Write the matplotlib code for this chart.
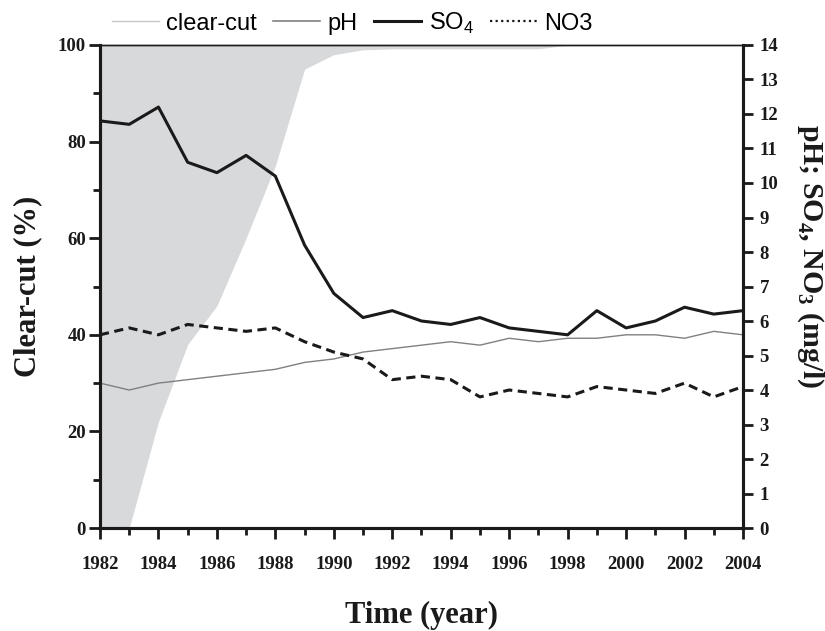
import matplotlib
matplotlib.use("Agg")
import matplotlib.pyplot as plt
from matplotlib.lines import Line2D
from matplotlib.ticker import MultipleLocator

years = list(range(1982, 2005))
clearcut = [0, 0, 22, 38, 46, 60, 75, 95, 98, 99, 99.2, 99.2, 99.2, 99.2, 99.2,
            99.2, 100, 100, 100, 100, 100, 100, 100]
ph = [4.2, 4.0, 4.2, 4.3, 4.4, 4.5, 4.6, 4.8, 4.9, 5.1, 5.2, 5.3, 5.4,
      5.3, 5.5, 5.4, 5.5, 5.5, 5.6, 5.6, 5.5, 5.7, 5.6]
so4 = [11.8, 11.7, 12.2, 10.6, 10.3, 10.8, 10.2, 8.2, 6.8, 6.1, 6.3, 6.0, 5.9,
       6.1, 5.8, 5.7, 5.6, 6.3, 5.8, 6.0, 6.4, 6.2, 6.3]
no3 = [5.6, 5.8, 5.6, 5.9, 5.8, 5.7, 5.8, 5.4, 5.1, 4.9, 4.3, 4.4, 4.3,
       3.8, 4.0, 3.9, 3.8, 4.1, 4.0, 3.9, 4.2, 3.8, 4.1]

serif = ["Liberation Serif", "DejaVu Serif"]
sans = ["Liberation Sans", "DejaVu Sans"]
ink = "#1a1a1a"

plt.rcParams["mathtext.fontset"] = "custom"
plt.rcParams["mathtext.bf"] = "Liberation Serif:bold"
plt.rcParams["mathtext.rm"] = "Liberation Sans"

fig = plt.figure(figsize=(8.25, 6.31), dpi=100)
ax = fig.add_axes([0.1212, 0.1632, 0.7794, 0.7655])
ax2 = ax.twinx()

ax.fill_between(years, clearcut, 100, color="#d8d9db", linewidth=0)
ax.set_xlim(1982, 2004)
ax.set_ylim(0, 100)
ax2.set_ylim(0, 14)

ax2.plot(years, ph, color="#808080", lw=1.0)
ax2.plot(years, so4, color=ink, lw=2.2)
ax2.plot(years, no3, color=ink, lw=2.2, dashes=(3, 1.8))

for a in (ax, ax2):
    for s in a.spines.values():
        s.set_linewidth(2.2)
        s.set_color(ink)
    a.spines["top"].set_linewidth(1.0)

ax.xaxis.set_major_locator(MultipleLocator(2))
ax.xaxis.set_minor_locator(MultipleLocator(1))
ax.yaxis.set_major_locator(MultipleLocator(20))
ax.yaxis.set_minor_locator(MultipleLocator(10))
ax2.yaxis.set_major_locator(MultipleLocator(1))

ax.tick_params(axis="x", which="major", direction="out", length=8, width=2, pad=12, color=ink)
ax.tick_params(axis="x", which="minor", direction="out", length=5, width=2, color=ink)
ax.tick_params(axis="y", which="major", direction="out", length=8, width=2, pad=2, color=ink)
ax.tick_params(axis="y", which="minor", direction="out", length=5, width=2, color=ink)
ax2.tick_params(axis="y", which="major", direction="out", length=7, width=2, pad=5, color=ink)

for a in (ax, ax2):
    for lbl in a.get_xticklabels() + a.get_yticklabels():
        lbl.set_family(serif)
        lbl.set_fontweight("bold")
        lbl.set_fontsize(13.5)
        lbl.set_color(ink)

ax.set_xlabel("Time (year)", family=serif, fontweight="bold", fontsize=22, labelpad=20, color=ink)
ax.set_ylabel("Clear-cut (%)", family=serif, fontweight="bold", fontsize=22, va="center", color=ink)
ax.yaxis.set_label_coords(-0.112, 0.5)
ax2.set_ylabel(r"pH; SO$_\mathbf{4}$, NO$_\mathbf{3}$ (mg/l)", family=serif, fontweight="bold",
               fontsize=21.5, rotation=270, va="center", color=ink)
ax2.yaxis.set_label_coords(1.104, 0.563)

handles = [
    Line2D([], [], color="#c8c8c8", lw=1.0),
    Line2D([], [], color="#808080", lw=1.2),
    Line2D([], [], color=ink, lw=2.2),
    Line2D([], [], color=ink, lw=1.6, linestyle=(0, (1, 1.5))),
]
labels = ["clear-cut", "pH", r"SO$_4$", "NO3"]
fig.legend(handles, labels, loc="center", bbox_to_anchor=(0.427, 0.963), ncol=4,
           frameon=False, prop={"family": sans, "size": 17}, handlelength=2.0,
           handletextpad=0.3, columnspacing=0.7)

fig.savefig("out.png", dpi=100)
